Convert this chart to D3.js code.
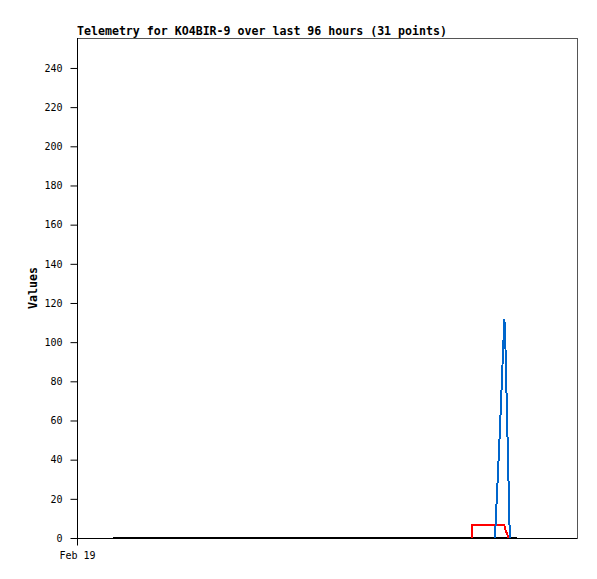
<!DOCTYPE html>
<html>
<head>
<meta charset="utf-8">
<script src="https://cdn.jsdelivr.net/npm/d3@7"></script>
<style>
body { margin: 0; background: #fff; }
text { font-family: "DejaVu Sans Mono", monospace; }
</style>
</head>
<body>
<div id="container"></div>
<script>
var w = 597, h = 579;
var margin = {top: 38, right: 20, bottom: 41, left: 77};

// data (hours after Feb 19 00:00)
var title = "Telemetry for KO4BIR-9 over last 96 hours (31 points)";
var yLabel = "Values";
var tickLabels = ["Feb 19"];
var yTicks = [0, 20, 40, 60, 80, 100, 120, 140, 160, 180, 200, 220, 240];
var blackHours = [6.9, 20, 35, 50, 62, 72, 84.5];
var blackValues = [0, 0, 0, 0, 0, 0, 0];
var redHours = [75.8, 75.8, 82.0, 82.3, 82.9];
var redValues = [0, 6.8, 6.8, 4, 0];
var blueHours = [80.25, 81.2, 82.05, 82.2, 83.1];
var blueValues = [0, 55, 112, 105, 0];

var start = new Date(2024, 1, 19, 0, 0);
function t(hr) { return new Date(start.getTime() + hr * 3600000); }

var svg = d3.select("#container").append("svg")
  .attr("width", w).attr("height", h);

var x = d3.scaleTime()
  .domain([start, t(96)])
  .range([margin.left, w - margin.right]);
var y = d3.scaleLinear()
  .domain([0, 255.3])
  .range([h - margin.bottom, margin.top]);

// frame
svg.append("rect")
  .attr("x", margin.left + 0.5).attr("y", margin.top + 0.5)
  .attr("width", w - margin.right - margin.left)
  .attr("height", h - margin.bottom - margin.top)
  .attr("fill", "none").attr("stroke", "#555");

// y axis
var yAxis = svg.append("g")
  .attr("transform", "translate(" + (margin.left + 0.5) + ",0)")
  .call(d3.axisLeft(y).tickValues(yTicks).tickSize(7).tickPadding(8));
yAxis.select(".domain").remove();
yAxis.selectAll("text").attr("font-family", "DejaVu Sans Mono").attr("font-size", 10).attr("fill", "#000");
yAxis.selectAll("line").attr("stroke", "#000");

// x axis
var xAxis = svg.append("g")
  .attr("transform", "translate(0," + (h - margin.bottom + 0.5) + ")")
  .call(d3.axisBottom(x).tickValues([start]).tickFormat(function(d, i) { return tickLabels[i]; }).tickSize(7).tickPadding(6));
xAxis.select(".domain").attr("stroke", "#000").attr("d", "M" + margin.left + ",0H" + (w - margin.right));
xAxis.selectAll("text").attr("font-family", "DejaVu Sans Mono").attr("font-size", 10).attr("fill", "#000");
xAxis.selectAll("line").attr("stroke", "#000");

// left axis line
svg.append("line")
  .attr("x1", margin.left + 0.5).attr("x2", margin.left + 0.5)
  .attr("y1", margin.top).attr("y2", h - margin.bottom)
  .attr("stroke", "#000");

var line = d3.line()
  .x(function(d) { return x(t(d[0])); })
  .y(function(d) { return y(d[1]); });

function series(hours, values, color) {
  svg.append("path")
    .datum(d3.zip(hours, values))
    .attr("d", line)
    .attr("fill", "none")
    .attr("stroke", color)
    .attr("stroke-width", 2)
    .attr("shape-rendering", "crispEdges");
}
series(blackHours, blackValues, "#000");
series(redHours, redValues, "#ff0000");
series(blueHours, blueValues, "#0066cc");

// title
svg.append("text")
  .attr("x", margin.left).attr("y", 34.5)
  .attr("font-size", 11.6).attr("font-weight", "bold")
  .text(title);

// y label
svg.append("text")
  .attr("transform", "translate(36.5," + ((margin.top + h - margin.bottom) / 2) + ") rotate(-90)")
  .attr("text-anchor", "middle")
  .attr("font-size", 11.6).attr("font-weight", "bold")
  .text(yLabel);
</script>
</body>
</html>
